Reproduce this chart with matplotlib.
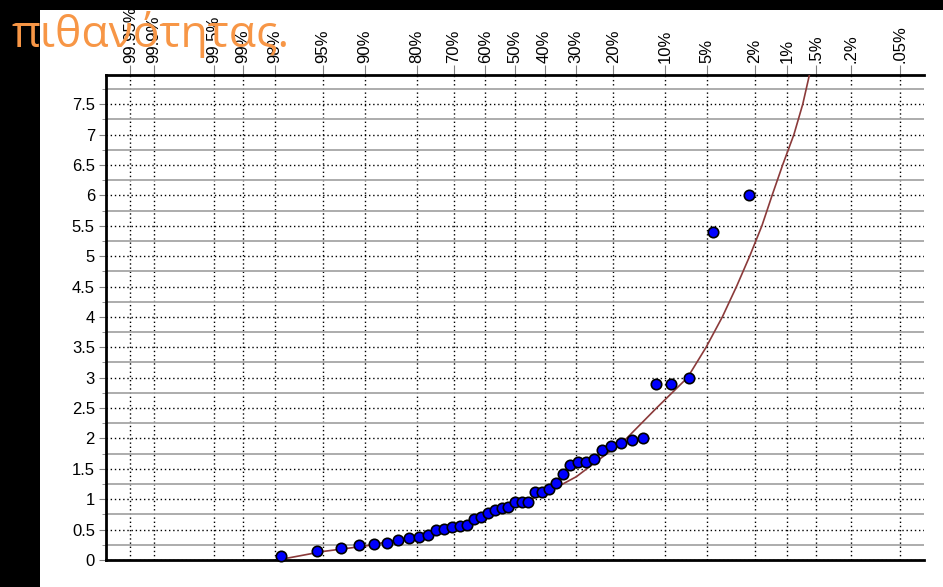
import matplotlib

matplotlib.use("Agg")
import matplotlib.pyplot as plt
import numpy as np
from statistics import NormalDist
from matplotlib.patches import Rectangle
from matplotlib.ticker import FixedLocator, FuncFormatter

plt.rcParams["font.family"] = ["Liberation Sans", "DejaVu Sans"]

TITLE = "πιθανότητας."

# exceedance probability (%) ticks along the top axis
prob_ticks = [99.95, 99.9, 99.5, 99, 98, 95, 90, 80, 70, 60, 50,
              40, 30, 20, 10, 5, 2, 1, 0.5, 0.2, 0.05]
prob_labels = ["99.95%", "99.9%", "99.5%", "99%", "98%", "95%", "90%",
               "80%", "70%", "60%", "50%", "40%", "30%", "20%", "10%",
               "5%", "2%", "1%", ".5%", ".2%", ".05%"]

# observed values, sorted ascending
observed = [0.07, 0.15, 0.20, 0.25, 0.27, 0.28, 0.33, 0.36, 0.38, 0.41,
            0.49, 0.51, 0.54, 0.56, 0.57, 0.67, 0.70, 0.77, 0.82, 0.85,
            0.88, 0.95, 0.96, 0.96, 1.12, 1.12, 1.17, 1.27, 1.42, 1.56,
            1.61, 1.61, 1.66, 1.81, 1.87, 1.92, 1.97, 2.00, 2.90, 2.90,
            3.00, 5.40, 6.00]

# fitted distribution curve: exceedance (%) -> value
curve_exc = [97.9, 96.7, 95, 90, 80, 70, 60, 50, 40, 30, 20, 17.0, 11.3,
             7.0, 5.1, 3.8, 2.9, 2.23, 1.73, 1.39, 1.10, 0.85, 0.69, 0.59]
curve_val = [0.0, 0.07, 0.14, 0.23, 0.39, 0.54, 0.71, 0.89, 1.09, 1.37,
             1.83, 2.0, 2.5, 3.0, 3.5, 4.0, 4.5, 5.0, 5.5, 6.0, 6.5, 7.0,
             7.5, 7.97]

ND = NormalDist()


def exc_to_z(p):
    p = np.clip(np.asarray(p, dtype=float), 1e-7, 100 - 1e-7)
    return np.vectorize(lambda q: ND.inv_cdf(1 - q / 100.0), otypes=[float])(p)


def z_to_exc(z):
    z = np.asarray(z, dtype=float)
    return np.vectorize(lambda t: 100.0 * (1 - ND.cdf(t)), otypes=[float])(z)


# Weibull plotting positions for the sorted sample
n = len(observed)
obs_exc = [100.0 * (1 - (i + 1) / (n + 1)) for i in range(n)]

W, H = 943, 587
fig = plt.figure(figsize=(W / 100, H / 100), dpi=100)
fig.patch.set_facecolor("black")
fig.add_artist(Rectangle((40 / W, 0), 1 - 40 / W, 1 - 10 / H,
                         transform=fig.transFigure, facecolor="white",
                         edgecolor="none", zorder=0))

ax = fig.add_axes([106 / W, 1 - 560 / H, (924 - 106) / W, (560 - 75) / H])
ax.set_facecolor("white")
ax.set_xscale("function", functions=(exc_to_z, z_to_exc))
# high exceedance on the left, rare events on the right
ax.set_xlim(float(z_to_exc(3.5)), float(z_to_exc(-3.5)))
ax.set_ylim(0, 7.98)

# grid: dotted at labelled values, solid grey halfway between
ax.set_axisbelow(True)
ax.xaxis.set_major_locator(FixedLocator(prob_ticks))
ax.xaxis.set_major_formatter(FuncFormatter(lambda v, i: prob_labels[i] if i is not None and i < len(prob_labels) else ""))
ax.xaxis.set_minor_locator(FixedLocator([]))
ax.yaxis.set_major_locator(FixedLocator(np.arange(0, 7.51, 0.5)))
ax.yaxis.set_minor_locator(FixedLocator(np.arange(0.25, 7.9, 0.5)))
ax.yaxis.set_major_formatter(FuncFormatter(lambda v, i: f"{v:g}"))
ax.grid(True, which="major", axis="both", color="black",
        linestyle=(0, (1, 2)), linewidth=1.0)
ax.grid(True, which="minor", axis="y", color="#a6a6a6",
        linestyle="-", linewidth=1.3)

ax.xaxis.tick_top()
ax.tick_params(axis="x", which="major", direction="out", length=7,
               color="#808080", labelsize=12, pad=1.5, labelrotation=90)
ax.tick_params(axis="y", which="major", direction="out", length=5,
               color="#808080", labelsize=12, pad=3)
ax.tick_params(axis="y", which="minor", direction="out", length=3,
               color="#808080")

for side in ("left", "bottom", "top"):
    ax.spines[side].set_linewidth(2.0)
    ax.spines[side].set_color("black")
ax.spines["right"].set_visible(False)

ax.plot(curve_exc, curve_val, color="#8b3a3a", linewidth=1.2, zorder=3)
ax.plot(obs_exc, observed, "o", markersize=7.5, markerfacecolor="#0000ff",
        markeredgecolor="black", markeredgewidth=1.2, clip_on=False,
        zorder=4)

fig.text(12 / W, 1 - 47 / H, TITLE, color="#f79646", fontsize=32,
         fontfamily=["Open Sans", "DejaVu Sans"],
         ha="left", va="baseline", zorder=10)

fig.savefig("out.png", dpi=100, facecolor=fig.get_facecolor())
